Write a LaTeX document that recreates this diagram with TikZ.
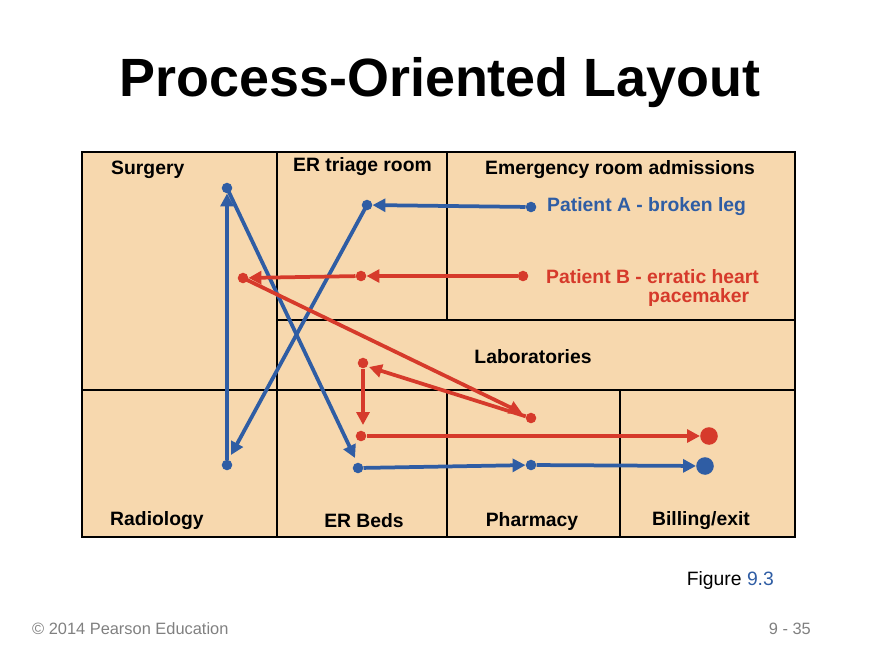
\documentclass[tikz,border=0pt]{standalone}
\usepackage{fontspec}
\setmainfont{Liberation Sans}
\usetikzlibrary{arrows.meta}
\definecolor{peach}{HTML}{F7D8AE}
\definecolor{pblue}{HTML}{2F5DA4}
\definecolor{pred}{HTML}{D63A2B}
\begin{document}
\begin{tikzpicture}[x=0.03cm,y=-0.03cm,
  wall/.style={line width=1.6pt,black},
  lbl/.style={font=\bfseries\fontsize{16.5}{18}\selectfont,inner sep=0pt},
  ba/.style={pblue,line width=3.2pt,-{Triangle[length=11pt,width=11pt]}},
  ra/.style={pred,line width=3.2pt,-{Triangle[length=11pt,width=11pt]}},
  dot/.style={circle,fill,inner sep=0pt,minimum size=9pt}]
\useasboundingbox (0,0) rectangle (880,660);
\node[font=\bfseries\fontsize{46}{52}\selectfont] (title) at (440,83) {Process-Oriented Layout};
\fill[peach] (82,152) rectangle (795,537);
\draw[wall] (82,152) rectangle (795,537);
\draw[wall] (277,152) -- (277,537);
\draw[wall] (447,152) -- (447,320);
\draw[wall] (447,390) -- (447,537);
\draw[wall] (277,320) -- (795,320);
\draw[wall] (82,390) -- (795,390);
\draw[wall] (620,390) -- (620,537);
\node[lbl,anchor=west] (surg) at (111,170) {Surgery};
\node[lbl,anchor=west] (tri) at (293,167) {ER triage room};
\node[lbl,anchor=west] (adm) at (485,170) {Emergency room admissions};
\node[lbl] (lab) at (533,357) {Laboratories};
\node[lbl,anchor=west] (rad) at (110,521) {Radiology};
\node[lbl] (beds) at (364,521) {ER Beds};
\node[lbl] (ph) at (532,521) {Pharmacy};
\node[lbl] (bill) at (701,521) {Billing/exit};
\node[lbl,anchor=west,text=pblue] (pa) at (547,207) {Patient A - broken leg};
\node[lbl,anchor=west,text=pred] (pb) at (546,277) {Patient B - erratic heart};
\node[lbl,anchor=west,text=pred] (pb2) at (648,297) {pacemaker};
\node[font=\fontsize{16.5}{18}\selectfont,anchor=east] (fig) at (778,580) {Figure \textcolor{pblue}{9.3}};
\node[font=\fontsize{14}{16}\selectfont,text=gray,anchor=west] (cp) at (28,629) {© 2014 Pearson Education};
\node[font=\fontsize{14}{16}\selectfont,text=gray,anchor=east] (pg) at (815,629) {9 - 35};
% blue nodes
\node[dot,pblue] (b1) at (531,207) {};
\node[dot,pblue] (b2) at (367,205) {};
\node[dot,pblue] (b3) at (227,465) {};
\node[dot,pblue] (b4) at (227,188) {};
\node[dot,pblue] (b5) at (358,468) {};
\node[dot,pblue] (b6) at (531,465) {};
\node[dot,pblue,minimum size=15pt] (b7) at (705,466) {};
\coordinate (b2e) at (231,455);
\coordinate (b5e) at (355,458);
% red nodes
\node[dot,pred] (r1) at (523,276) {};
\node[dot,pred] (r2) at (361,276) {};
\node[dot,pred] (r3) at (243,278) {};
\node[dot,pred] (r4) at (531,418) {};
\node[dot,pred] (r5) at (363,363) {};
\node[dot,pred] (r6) at (361,436) {};
\node[dot,pred,minimum size=15pt] (r7) at (709,436) {};
\coordinate (r3e) at (522,413);
\coordinate (r4e) at (369,367);
\coordinate (r5e) at (363,425);
% blue paths
\draw[ba] (b1) -- (b2);
\draw[ba] (b2.center) -- (b2e);
\draw[ba] (b3) -- (b4);
\draw[ba] (b4.center) -- (b5e);
\draw[ba] (b5) -- (b6);
\draw[ba] (b6) -- (b7);
% red paths
\draw[ra] (r1) -- (r2);
\draw[ra] (r2) -- (r3);
\draw[ra] (r3.center) -- (r3e);
\draw[ra] (r4) -- (r4e);
\draw[ra] (r5) -- (r5e);
\draw[ra] (r6) -- (r7);
\end{tikzpicture}
\end{document}
